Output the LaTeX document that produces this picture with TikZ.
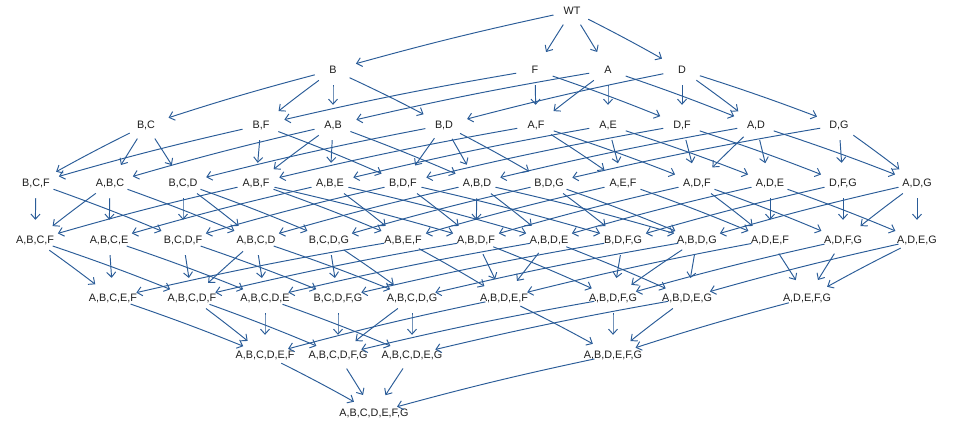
\documentclass[tikz,border=0pt]{standalone}
\usepackage{fontspec}
\setmainfont{Liberation Sans}
\usetikzlibrary{shapes.geometric,arrows.meta,calc}
\definecolor{edgec}{RGB}{42,92,152}
\definecolor{txtc}{RGB}{30,30,30}
\tikzset{
  gn/.style={ellipse, minimum width=48pt, minimum height=40pt, inner sep=0pt, text=txtc, font=\fontsize{10.8pt}{12pt}\selectfont},
  ed/.style={draw=edgec, line width=0.95pt, -{Straight Barb[length=5pt,width=9pt]}, shorten <=-5pt}
}
\newcommand{\G}[4]{\node[gn] (#1) at (#2,#3) {\makebox[0pt]{#4}};}
\begin{document}
\begin{tikzpicture}[x=1pt,y=-1pt]
\useasboundingbox[fill=white] (0,0) rectangle (955,426);
\G{WT}{572}{11}{WT}
\G{B}{333}{70}{B}
\G{F}{535}{70}{F}
\G{A}{608}{70}{A}
\G{D}{682}{70}{D}
\G{BC}{146}{125}{B,C}
\G{BF}{261}{125}{B,F}
\G{AB}{333}{125}{A,B}
\G{BD}{444}{125}{B,D}
\G{AF}{536}{125}{A,F}
\G{AE}{608}{125}{A,E}
\G{DF}{682}{125}{D,F}
\G{AD}{756}{125}{A,D}
\G{DG}{839}{125}{D,G}
\G{BCF}{36}{183}{B,C,F}
\G{ABC}{110}{183}{A,B,C}
\G{BCD}{183}{183}{B,C,D}
\G{ABF}{256}{183}{A,B,F}
\G{ABE}{330}{183}{A,B,E}
\G{BDF}{403}{183}{B,D,F}
\G{ABD}{477}{183}{A,B,D}
\G{BDG}{549}{183}{B,D,G}
\G{AEF}{623}{183}{A,E,F}
\G{ADF}{697}{183}{A,D,F}
\G{ADE}{770}{183}{A,D,E}
\G{DFG}{843}{183}{D,F,G}
\G{ADG}{917}{183}{A,D,G}
\G{ABCF}{35}{240}{A,B,C,F}
\G{ABCE}{109}{240}{A,B,C,E}
\G{BCDF}{183}{240}{B,C,D,F}
\G{ABCD}{256}{240}{A,B,C,D}
\G{BCDG}{329}{240}{B,C,D,G}
\G{ABEF}{403}{240}{A,B,E,F}
\G{ABDF}{476}{240}{A,B,D,F}
\G{ABDE}{549}{240}{A,B,D,E}
\G{BDFG}{623}{240}{B,D,F,G}
\G{ABDG}{697}{240}{A,B,D,G}
\G{ADEF}{770}{240}{A,D,E,F}
\G{ADFG}{843}{240}{A,D,F,G}
\G{ADEG}{917}{240}{A,D,E,G}
\G{ABCEF}{113}{298}{A,B,C,E,F}
\G{ABCDF}{192}{298}{A,B,C,D,F}
\G{ABCDE}{265}{298}{A,B,C,D,E}
\G{BCDFG}{338}{298}{B,C,D,F,G}
\G{ABCDG}{412}{298}{A,B,C,D,G}
\G{ABDEF}{504}{298}{A,B,D,E,F}
\G{ABDFG}{613}{298}{A,B,D,F,G}
\G{ABDEG}{687}{298}{A,B,D,E,G}
\G{ADEFG}{807}{298}{A,D,E,F,G}
\G{ABCDEF}{265}{355}{A,B,C,D,E,F}
\G{ABCDFG}{338}{355}{A,B,C,D,F,G}
\G{ABCDEG}{412}{355}{A,B,C,D,E,G}
\G{ABDEFG}{613}{355}{A,B,D,E,F,G}
\G{ABCDEFG}{374}{413}{A,B,C,D,E,F,G}
\foreach \s/\t in {
 WT/B, WT/F, WT/A, WT/D,
 B/BC, B/BF, B/AB, B/BD,
 F/BF, F/AF, F/DF,
 A/AB, A/AF, A/AE, A/AD,
 D/BD, D/DF, D/AD, D/DG,
 BC/BCF, BC/ABC, BC/BCD,
 BF/BCF, BF/ABF, BF/BDF,
 AB/ABC, AB/ABF, AB/ABE, AB/ABD,
 BD/BCD, BD/BDF, BD/ABD, BD/BDG,
 AF/ABF, AF/AEF, AF/ADF,
 AE/ABE, AE/AEF, AE/ADE,
 DF/BDF, DF/ADF, DF/DFG,
 AD/ABD, AD/ADF, AD/ADE, AD/ADG,
 DG/BDG, DG/DFG, DG/ADG,
 BCF/ABCF, BCF/BCDF,
 ABC/ABCF, ABC/ABCE, ABC/ABCD,
 BCD/BCDF, BCD/ABCD, BCD/BCDG,
 ABF/ABCF, ABF/ABEF, ABF/ABDF,
 ABE/ABCE, ABE/ABEF, ABE/ABDE,
 BDF/BCDF, BDF/ABDF, BDF/BDFG,
 ABD/ABCD, ABD/ABDF, ABD/ABDE, ABD/ABDG,
 BDG/BCDG, BDG/BDFG, BDG/ABDG,
 AEF/ABEF, AEF/ADEF,
 ADF/ABDF, ADF/ADEF, ADF/ADFG,
 ADE/ABDE, ADE/ADEF, ADE/ADEG,
 DFG/BDFG, DFG/ADFG,
 ADG/ABDG, ADG/ADFG, ADG/ADEG,
 ABCF/ABCEF, ABCF/ABCDF,
 ABCE/ABCEF, ABCE/ABCDE,
 BCDF/ABCDF, BCDF/BCDFG,
 ABCD/ABCDF, ABCD/ABCDE, ABCD/ABCDG,
 BCDG/BCDFG, BCDG/ABCDG,
 ABEF/ABCEF, ABEF/ABDEF,
 ABDF/ABCDF, ABDF/ABDEF, ABDF/ABDFG,
 ABDE/ABCDE, ABDE/ABDEF, ABDE/ABDEG,
 BDFG/BCDFG, BDFG/ABDFG,
 ABDG/ABCDG, ABDG/ABDFG, ABDG/ABDEG,
 ADEF/ABDEF, ADEF/ADEFG,
 ADFG/ABDFG, ADFG/ADEFG,
 ADEG/ABDEG, ADEG/ADEFG,
 ABCEF/ABCDEF,
 ABCDF/ABCDEF, ABCDF/ABCDFG,
 ABCDE/ABCDEF, ABCDE/ABCDEG,
 BCDFG/ABCDFG,
 ABCDG/ABCDFG, ABCDG/ABCDEG,
 ABDEF/ABCDEF, ABDEF/ABDEFG,
 ABDFG/ABCDFG, ABDFG/ABDEFG,
 ABDEG/ABCDEG, ABDEG/ABDEFG,
 ADEFG/ABDEFG,
 ABCDEF/ABCDEFG, ABCDFG/ABCDEFG, ABCDEG/ABCDEFG, ABDEFG/ABCDEFG}
 \draw[ed] let \p1=(\s.center), \p2=(\t.center), \n1={0.012*abs(\x2-\x1)} in
   (\s) .. controls ($(\s)!0.4!(\t)+(0pt,\n1)$) and ($(\s)!0.6!(\t)+(0pt,\n1)$) .. (\t);
\end{tikzpicture}
\end{document}
